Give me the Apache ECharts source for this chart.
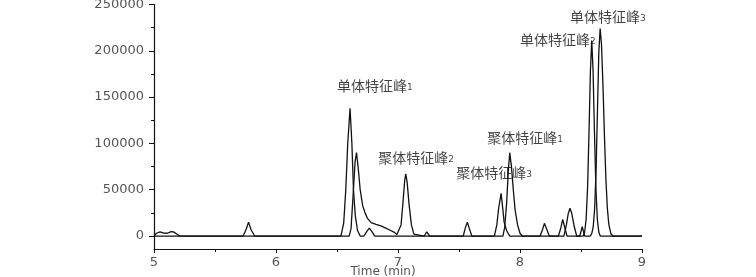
<!DOCTYPE html>
<html>
<head>
<meta charset="utf-8">
<script src="https://cdn.jsdelivr.net/npm/echarts@6/dist/echarts.min.js"></script>
<style>
html,body{margin:0;padding:0;background:#fff;}
#chart{width:756px;height:277px;}
</style>
</head>
<body>
<div id="chart"></div>
<script>
// Trace A (time in min, signal)
const timesA = [
  5.00, 5.02, 5.05, 5.08, 5.11, 5.14, 5.16, 5.19, 5.21,
  5.29, 5.30, 5.31, 5.33, 5.34, 5.35,
  5.73, 5.755, 5.775, 5.795, 5.825,
  6.532, 6.555, 6.572, 6.588, 6.607, 6.622, 6.635, 6.65, 6.668, 6.69,
  6.72, 6.745, 6.765, 6.785, 6.81,
  7.535, 7.55, 7.568, 7.585, 7.605,
  7.79, 7.81, 7.825, 7.845, 7.86, 7.87, 7.88, 7.89, 7.9, 7.915,
  8.315, 8.335, 8.35, 8.365, 8.385,
  8.518, 8.53, 8.542, 8.554, 8.566, 8.577, 8.588, 8.599, 8.61, 8.622, 8.634, 8.646, 8.658,
  9.00
];
const valuesA = [
  0, 3000, 4500, 3200, 3000, 4800, 4500, 2000, 0,
  0, 1500, 0, 0, 1200, 0,
  0, 7000, 15000, 7000, 0,
  0, 14000, 50000, 100000, 138000, 100000, 50000, 22000, 6000, 0,
  0, 5000, 8500, 5000, 0,
  0, 8000, 15000, 8000, 0,
  0, 12000, 30000, 46000, 28000, 15000, 13000, 6000, 4000, 0,
  0, 9000, 18000, 10000, 0,
  0, 4400, 18000, 52500, 114000, 178000, 211000, 178000, 114000, 52500, 18000, 4400, 0,
  0
];
// Trace B
const timesB = [
  5.00, 5.60, 5.615, 5.63, 6.00, 6.015, 6.03,
  6.60, 6.615, 6.632, 6.648, 6.66, 6.675, 6.69, 6.71, 6.73, 6.75, 6.78, 6.82, 6.86, 6.90, 6.94, 6.97, 6.99, 7.005,
  7.025, 7.04, 7.055, 7.064, 7.075, 7.09, 7.11, 7.13, 7.145,
  7.215, 7.236, 7.26,
  7.86, 7.875, 7.89, 7.905, 7.916, 7.93, 7.945, 7.96, 7.98, 8.0, 8.02,
  8.165, 8.185, 8.2, 8.22, 8.24,
  8.36, 8.38, 8.395, 8.41, 8.425, 8.445, 8.465,
  8.49, 8.51, 8.53,
  8.575, 8.588, 8.6, 8.612, 8.624, 8.635, 8.646, 8.657, 8.668, 8.68, 8.692, 8.704, 8.716, 8.728, 8.745, 8.762,
  9.00
];
const valuesB = [
  0, 0, 1200, 0, 0, 1200, 0,
  0, 8000, 44000, 80000, 90000, 72000, 50000, 33000, 25000, 19000, 14500, 12500, 11000, 8500, 6000, 4000, 1500, 0,
  12000, 35000, 60000, 67000, 58000, 35000, 12000, 2000, 0,
  0, 4600, 0,
  0, 10000, 35000, 72000, 90000, 75000, 50000, 28000, 12000, 3000, 0,
  0, 7000, 13700, 7000, 0,
  0, 12000, 24000, 30000, 24000, 10000, 0,
  0, 10000, 0,
  0, 2500, 9800, 30000, 73000, 136000, 198000, 224000, 207000, 163000, 109000, 62000, 30000, 12600, 2500, 0,
  0
];
// Peak annotations (text, label centre in data units)
const labelNames = ['单体特征峰', '聚体特征峰', '聚体特征峰', '聚体特征峰', '单体特征峰', '单体特征峰'];
const labelNums = ['1', '2', '1', '3', '2', '3'];
const labelTimes = [6.811, 7.148, 8.041, 7.787, 8.311, 8.721];
const labelValues = [162000, 84200, 105800, 68000, 211700, 236500];
// Axis ticks
const yTickValues = [0, 50000, 100000, 150000, 200000, 250000];
const yMinorTickValues = [25000, 75000, 125000, 175000, 225000];
const xMin = 5, xMax = 9, xStep = 1;
const yMin = -14000, yMax = 250000;

const zip = (t, v) => t.map((x, i) => [x, v[i]]);
const labelData = labelTimes.map((t, i) => ({ value: [t, labelValues[i]], name: labelNames[i], num: labelNums[i] }));

const axisFont = { color: '#555', fontSize: 13, fontFamily: 'DejaVu Sans' };
const chart = echarts.init(document.getElementById('chart'), null, { renderer: 'canvas' });
chart.setOption({
  animation: false,
  backgroundColor: '#fff',
  grid: { left: 154, right: 114, top: 4.5, bottom: 28, containLabel: false, outerBoundsMode: 'none' },
  xAxis: {
    type: 'value', min: xMin, max: xMax, interval: xStep,
    name: 'Time (min)', nameLocation: 'middle', nameGap: 17, nameMoveOverlap: false,
    nameTextStyle: Object.assign({}, axisFont, { fontSize: 12, padding: [0, 30, 0, 0] }),
    axisLine: { onZero: false, lineStyle: { color: '#111', width: 1.2 } },
    axisTick: { show: true, inside: false, length: 4, lineStyle: { color: '#111' } },
    minorTick: { show: true, splitNumber: 2, length: 3, lineStyle: { color: '#111' } },
    axisLabel: Object.assign({ margin: 7 }, axisFont),
    splitLine: { show: false }
  },
  yAxis: [{
    type: 'value', min: yMin, max: yMax,
    axisLine: { show: true, lineStyle: { color: '#111', width: 1.2 } },
    axisTick: { show: true, inside: false, length: 5, customValues: yTickValues, lineStyle: { color: '#111' } },
    axisLabel: Object.assign({ margin: 10, customValues: yTickValues, formatter: v => String(v) }, axisFont),
    splitLine: { show: false }
  }, {
    type: 'value', min: yMin, max: yMax, position: 'left',
    axisLine: { show: false },
    axisTick: { show: true, inside: false, length: 3, customValues: yMinorTickValues, lineStyle: { color: '#111' } },
    axisLabel: { show: false },
    splitLine: { show: false }
  }],
  series: [{
    type: 'line', data: zip(timesA, valuesA), showSymbol: false, symbol: 'none',
    lineStyle: { color: '#111', width: 1.3 }, z: 3
  }, {
    type: 'line', data: zip(timesB, valuesB), showSymbol: false, symbol: 'none',
    lineStyle: { color: '#111', width: 1.3 }, z: 3
  }, {
    type: 'scatter', data: labelData, symbolSize: 1,
    itemStyle: { color: 'rgba(0,0,0,0)' }, z: 5,
    label: {
      show: true, position: 'inside',
      formatter: p => '{a|' + p.data.name + '}{b|' + p.data.num + '}',
      rich: {
        a: { fontSize: 14, color: '#111', fontFamily: 'Noto Sans CJK SC' },
        b: { fontSize: 9, color: '#111', fontFamily: 'DejaVu Sans', padding: [3, 0, 0, 0] }
      }
    }
  }]
});
</script>
</body>
</html>
